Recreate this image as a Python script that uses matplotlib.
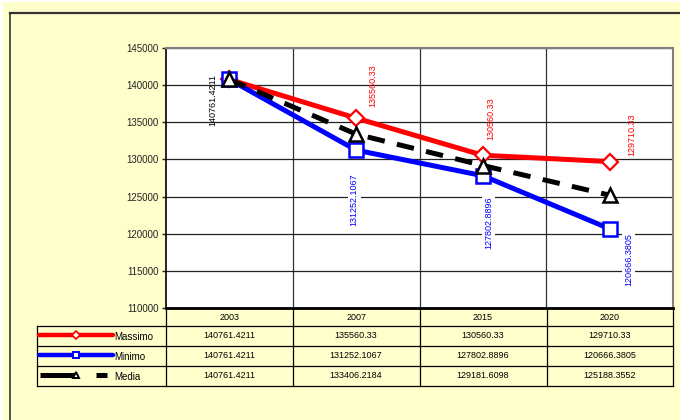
import matplotlib
matplotlib.use("Agg")
import matplotlib.pyplot as plt
from matplotlib.patches import Rectangle
from matplotlib.lines import Line2D

plt.rcParams['font.family'] = ['Liberation Sans', 'DejaVu Sans']

# data
anni = ['2003', '2007', '2015', '2020']
massimo = [140761.4211, 135560.33, 130560.33, 129710.33]
minimo = [140761.4211, 131252.1067, 127802.8896, 120666.3805]
media = [140761.4211, 133406.2184, 129181.6098, 125188.3552]
serie_nomi = ['Massimo', 'Minimo', 'Media']

W, H = 680, 420
fig = plt.figure(figsize=(W / 100, H / 100), dpi=100, facecolor='white')

# background panel (pixel coords)
bg = fig.add_axes([0, 0, 1, 1])
bg.set_xlim(0, W)
bg.set_ylim(H, 0)
bg.axis('off')
giallo = '#FFFFCC'
bg.add_patch(Rectangle((3, 2), W, H, facecolor=giallo, edgecolor='none'))
bg.plot([10, W], [13, 13], color='#333333', lw=1.6)
bg.plot([10, 10], [13, H], color='#333333', lw=1.2)

# plot area
L, R, T, B = 166, 673, 48, 308
ax = fig.add_axes([L / W, (H - B) / H, (R - L) / W, (B - T) / H])
ax.set_facecolor('white')
x = list(range(len(anni)))
ax.set_xlim(-0.5, len(anni) - 0.5)
ax.set_ylim(110000, 145000)
ax.set_yticks(range(110000, 145001, 5000))
ax.set_yticklabels([str(v) for v in range(110000, 145001, 5000)], fontsize=7)
ax.tick_params(axis='y', length=3, width=1, pad=2, colors='#222222')
ax.set_xticks([])
ax.set_xticks([0.5, 1.5, 2.5], minor=True)
ax.tick_params(axis='x', which='minor', length=0)
ax.grid(True, axis='y', color='#222222', lw=0.9)
ax.grid(True, axis='x', which='minor', color='#333333', lw=0.9)
ax.set_axisbelow(True)
for s in ['top', 'right']:
    ax.spines[s].set_color('#808080')
    ax.spines[s].set_linewidth(1.5)
ax.spines['left'].set_color('black')
ax.spines['left'].set_linewidth(1.2)
ax.spines['bottom'].set_color('black')
ax.spines['bottom'].set_linewidth(2)

ax.plot(x, massimo, color='#FF0000', lw=3.6, marker='D', ms=8.5,
        mfc='white', mec='#FF0000', mew=1.6, zorder=3)
ax.plot(x, minimo, color='#0000FF', lw=3.6, marker='s', ms=10,
        mfc='white', mec='#0000FF', mew=1.8, zorder=4)
ax.plot(x, media, color='black', lw=3.6, marker='^', ms=9.5,
        mfc='white', mec='black', mew=1.8, dashes=(3.5, 2.5), zorder=5)

# data labels
off_max = [(22, 6), (17, 11), (8, 15), (22, 6)]
for i in range(1, len(anni)):
    ax.annotate('%.2f' % massimo[i], (x[i], massimo[i]), xytext=off_max[i],
                textcoords='offset pixels', rotation=90, fontsize=6.5,
                color='#FF0000', ha='center', va='bottom', zorder=6)
off_min = [(0, 0), (-2, -23), (6, -21), (19, -4)]
for i in range(1, len(anni)):
    ax.annotate('%.4f' % minimo[i], (x[i], minimo[i]), xytext=off_min[i],
                textcoords='offset pixels', rotation=90, fontsize=6.5,
                color='#0000FF', ha='center', va='top', zorder=6,
                bbox=dict(facecolor='white', edgecolor='none', pad=1.5))
ax.annotate('%.4f' % media[0], (x[0], media[0]), xytext=(-17, -21),
            textcoords='offset pixels', rotation=90, fontsize=6.5,
            color='black', ha='center', va='center', zorder=6)

# data table
righe = [308, 326, 346, 366, 386]
colonne = [166, 293, 420, 547, 673]
tab_left = 37
lc = 'black'
for yy in righe[1:]:
    bg.plot([tab_left, colonne[-1]], [yy, yy], color=lc, lw=0.9)
bg.plot([colonne[0], colonne[-1]], [righe[0], righe[0]], color=lc, lw=0.9)
bg.plot([tab_left, tab_left], [righe[1], righe[-1]], color=lc, lw=0.9)
for cx in colonne:
    bg.plot([cx, cx], [righe[0], righe[-1]], color=lc, lw=0.9)

tr = ax.get_xaxis_transform()
def yfrac(ypx):
    return (B - ypx) / (B - T)

for i, a in enumerate(anni):
    ax.text(x[i], yfrac((righe[0] + righe[1]) / 2), a, transform=tr,
            ha='center', va='center', fontsize=6.5, clip_on=False)
for r, serie in enumerate([massimo, minimo, media]):
    yc = (righe[r + 1] + righe[r + 2]) / 2
    for i, v in enumerate(serie):
        testo = '%.2f' % v if (r == 0 and i > 0) else '%.4f' % v
        ax.text(x[i], yfrac(yc - 1), testo, transform=tr, ha='center',
                va='center', fontsize=6.5, clip_on=False)
    bg.text(114, yc + 1, serie_nomi[r], ha='left', va='center', fontsize=7)

# legend keys
y1 = (righe[1] + righe[2]) / 2 - 1
bg.add_line(Line2D([39, 113], [y1, y1], color='#FF0000', lw=3.2,
                   solid_capstyle='round'))
bg.add_line(Line2D([76], [y1], marker='D', ms=4, mfc='white', mec='#FF0000',
                   mew=1.2, color='#FF0000'))
y2 = (righe[2] + righe[3]) / 2 - 1
bg.add_line(Line2D([39, 113], [y2, y2], color='#0000FF', lw=3.2,
                   solid_capstyle='round'))
bg.add_line(Line2D([76], [y2], marker='s', ms=4.5, mfc='white', mec='#0000FF',
                   mew=1.4, color='#0000FF'))
y3 = (righe[3] + righe[4]) / 2 - 1
bg.add_line(Line2D([40, 74], [y3, y3], color='black', lw=3.6,
                   solid_capstyle='butt'))
bg.add_line(Line2D([96, 107], [y3, y3], color='black', lw=3.6,
                   solid_capstyle='butt'))
bg.add_line(Line2D([76], [y3], marker='^', ms=4.5, mfc='white', mec='black',
                   mew=1.4, color='black'))

fig.savefig('out.png', dpi=100, facecolor='white')
